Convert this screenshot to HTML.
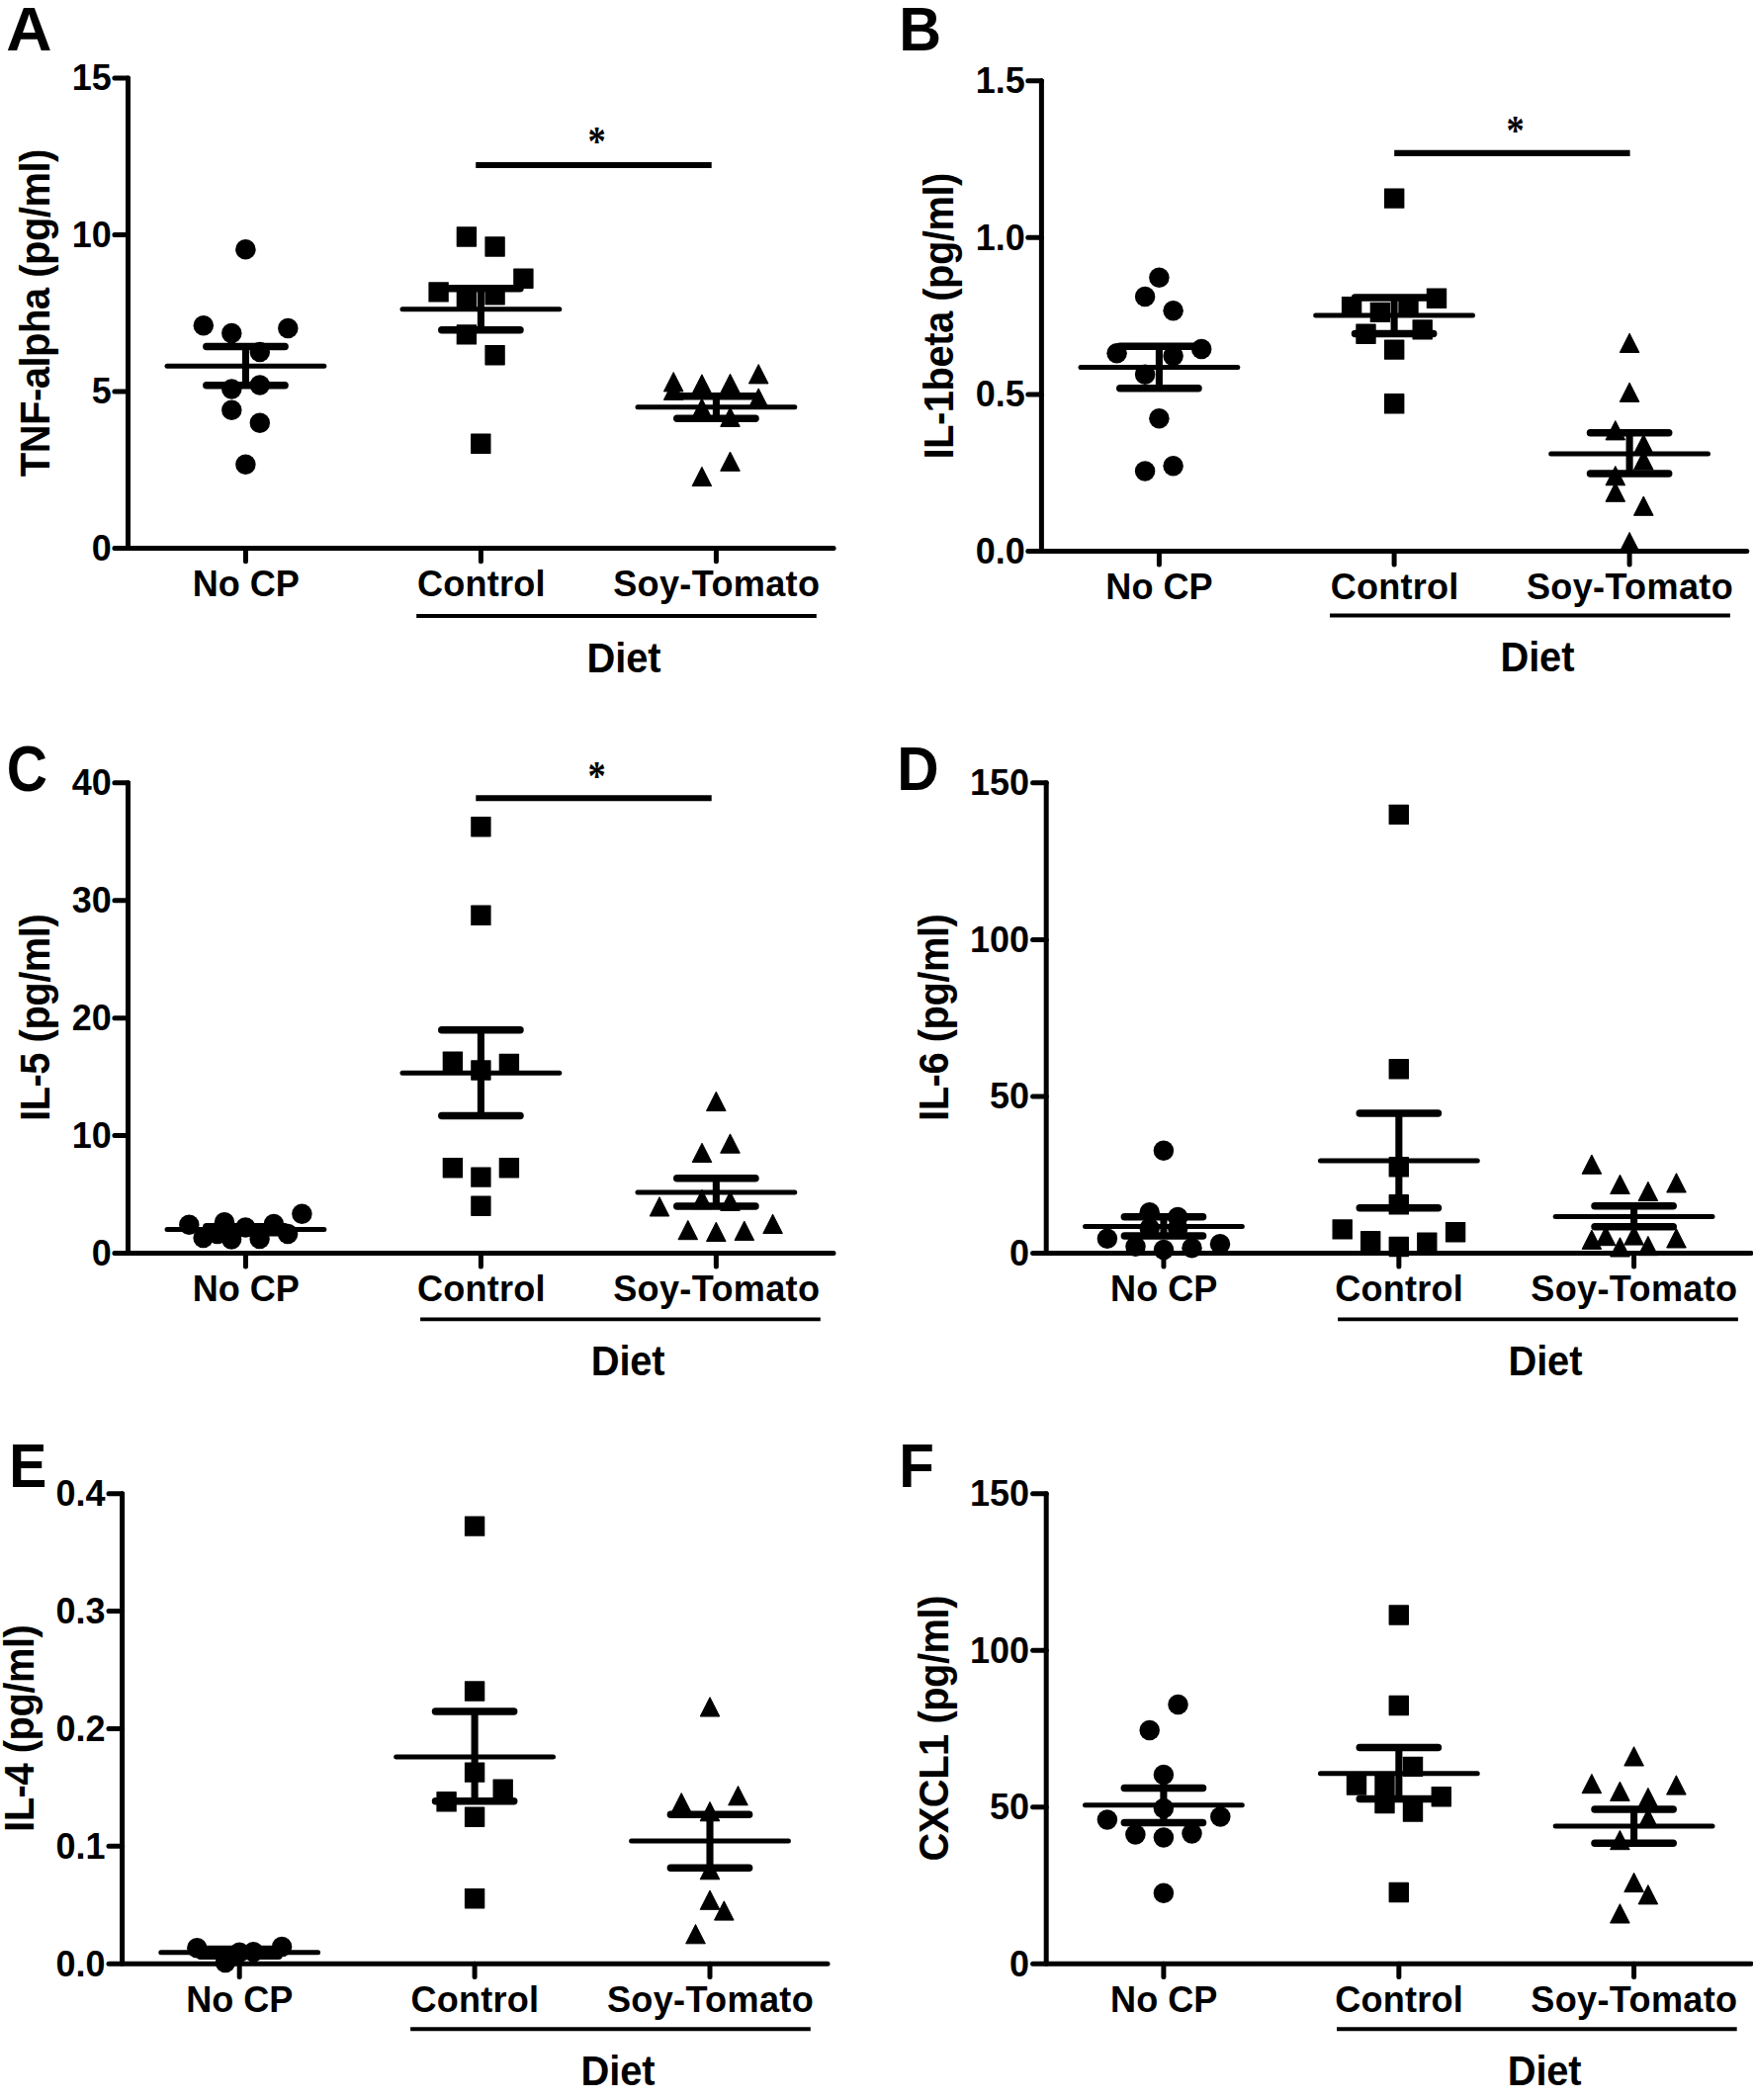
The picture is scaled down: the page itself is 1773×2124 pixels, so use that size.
<!DOCTYPE html>
<html lang="en"><head><meta charset="utf-8"><title>Figure</title>
<style>
html,body{margin:0;padding:0;background:#fff;}
body{width:1773px;height:2124px;overflow:hidden;}
svg{display:block;}
text{font-family:"Liberation Sans", Arial, Helvetica, sans-serif;font-weight:700;fill:#000;}
.letter{font-size:60px;}
.tick{font-size:36px;}
.xl{font-size:36.1px;}
.ls3{letter-spacing:0.33px;}
.ls2{letter-spacing:0.2px;}
.diet{font-size:39.9px;letter-spacing:-0.15px;}
.yl{font-size:39.9px;letter-spacing:-0.47px;}
.star{font-size:36.5px;font-family:"Liberation Serif","DejaVu Serif",serif;}
.tri{stroke:#000;stroke-width:1;stroke-linejoin:round;}
.axis{stroke:#000;stroke-width:5;fill:none;stroke-linecap:butt;}
.rc{stroke-linecap:round;}
.rcl{stroke-linecap:round;}
.uline{stroke:#000;stroke-width:3.9;fill:none;}
.sig{stroke:#000;stroke-width:6.1;fill:none;}
.mean{stroke:#000;stroke-width:5;stroke-linecap:round;fill:none;}
.sem{stroke:#000;stroke-width:7.5;stroke-linecap:round;fill:none;}
.semv{stroke:#000;stroke-width:7.1;fill:none;}
</style></head><body>
<svg width="1773" height="2124" viewBox="0 0 1773 2124">
<rect width="1773" height="2124" fill="#fff"/>
<g class="panel" id="panel-A">
<text class="letter" transform="translate(6.25 50.9) scale(1.069 1.039)">A</text>
<path class="axis rc" d="M129.5 79V554.4"/>
<path class="axis rc" d="M115.9 554.4H843.1"/>
<path class="axis rcl" d="M115.9 79H129.5"/>
<text class="tick" transform="translate(112.8 91.3) scale(1.000 1.043)" text-anchor="end">15</text>
<path class="axis rcl" d="M115.9 237.45H129.5"/>
<text class="tick" transform="translate(112.8 249.75) scale(1.000 1.043)" text-anchor="end">10</text>
<path class="axis rcl" d="M115.9 395.9H129.5"/>
<text class="tick" transform="translate(112.8 408.2) scale(1.000 1.043)" text-anchor="end">5</text>
<text class="tick" transform="translate(112.8 566.7) scale(1.000 1.043)" text-anchor="end">0</text>
<path class="axis rc" d="M248.45 554.4V567.8"/>
<path class="axis rc" d="M486.4 554.4V567.8"/>
<path class="axis rc" d="M724.4 554.4V567.8"/>
<text class="xl" transform="translate(248.8 603) scale(1.000 1.043)" text-anchor="middle">No CP</text>
<text class="xl ls2" transform="translate(486.85 603) scale(1.000 1.043)" text-anchor="middle">Control</text>
<text class="xl ls3" transform="translate(724.75 603) scale(1.000 1.043)" text-anchor="middle">Soy-Tomato</text>
<path class="uline" d="M421.2 622.95H825.8"/>
<text class="diet" transform="translate(631 679.65) scale(1.000 1.043)" text-anchor="middle">Diet</text>
<text class="yl" transform="translate(49.75 316.7) rotate(-90) scale(1.000 1.043)" text-anchor="middle">TNF-alpha (pg/ml)</text>
<path class="sig" d="M481.2 167H719.7"/>
<text class="star" transform="translate(603.5 156.94) scale(1.000 1.160)" text-anchor="middle">*</text>
<g class="grp">
<circle cx="248.4" cy="252.3" r="10.25"/>
<circle cx="205.8" cy="329.2" r="10.25"/>
<circle cx="234.3" cy="337.1" r="10.25"/>
<circle cx="291.3" cy="331.9" r="10.25"/>
<circle cx="262.8" cy="356.1" r="10.25"/>
<circle cx="234.3" cy="393.5" r="10.25"/>
<circle cx="262.8" cy="389.4" r="10.25"/>
<circle cx="234.3" cy="414.7" r="10.25"/>
<circle cx="262.8" cy="427.7" r="10.25"/>
<circle cx="248.4" cy="469.7" r="10.25"/>
<path class="mean" d="M169.05 370.3H327.85"/>
<path class="sem" d="M208.85 350.6H288.05"/>
<path class="sem" d="M208.85 389.8H288.05"/>
<path class="semv" d="M248.45 350.6V389.8"/>
</g>
<g class="grp">
<rect x="461.7" y="229.3" width="20.4" height="20.4" rx="0.6"/>
<rect x="490.4" y="239.3" width="20.4" height="20.4" rx="0.6"/>
<rect x="519.2" y="271.5" width="20.4" height="20.4" rx="0.6"/>
<rect x="433.4" y="285.2" width="20.4" height="20.4" rx="0.6"/>
<rect x="461.7" y="290.8" width="20.4" height="20.4" rx="0.6"/>
<rect x="490.4" y="288.2" width="20.4" height="20.4" rx="0.6"/>
<rect x="461.7" y="328.2" width="20.4" height="20.4" rx="0.6"/>
<rect x="490.4" y="349" width="20.4" height="20.4" rx="0.6"/>
<rect x="476.1" y="438.6" width="20.4" height="20.4" rx="0.6"/>
<path class="mean" d="M407 312.8H565.8"/>
<path class="sem" d="M446.8 291.7H526"/>
<path class="sem" d="M446.8 333.8H526"/>
<path class="semv" d="M486.4 291.7V333.8"/>
</g>
<g class="grp">
<path class="tri" d="M681.2 376.6L691 395.9L671.4 395.9Z"/>
<path class="tri" d="M709.9 378.8L719.7 398.1L700.1 398.1Z"/>
<path class="tri" d="M738.5 378.3L748.3 397.6L728.7 397.6Z"/>
<path class="tri" d="M767.2 368.6L777 387.9L757.4 387.9Z"/>
<path class="tri" d="M681.2 385.1L691 404.4L671.4 404.4Z"/>
<path class="tri" d="M767.2 392.9L777 412.2L757.4 412.2Z"/>
<path class="tri" d="M709.9 403.1L719.7 422.4L700.1 422.4Z"/>
<path class="tri" d="M738.5 412.1L748.3 431.4L728.7 431.4Z"/>
<path class="tri" d="M738.5 457L748.3 476.3L728.7 476.3Z"/>
<path class="tri" d="M709.9 472.3L719.7 491.6L700.1 491.6Z"/>
<path class="mean" d="M645 411.8H803.8"/>
<path class="sem" d="M684.8 400.8H764"/>
<path class="sem" d="M684.8 423.3H764"/>
<path class="semv" d="M724.4 400.8V423.3"/>
</g>
</g>
<g class="panel" id="panel-B">
<text class="letter" transform="translate(909.13 50.9) scale(0.988 1.039)">B</text>
<path class="axis rc" d="M1053.4 81.7V557.5"/>
<path class="axis rc" d="M1039.8 557.5H1766.8"/>
<path class="axis rcl" d="M1039.8 81.7H1053.4"/>
<text class="tick" transform="translate(1036.8 94) scale(1.000 1.043)" text-anchor="end">1.5</text>
<path class="axis rcl" d="M1039.8 240.3H1053.4"/>
<text class="tick" transform="translate(1036.8 252.6) scale(1.000 1.043)" text-anchor="end">1.0</text>
<path class="axis rcl" d="M1039.8 398.9H1053.4"/>
<text class="tick" transform="translate(1036.8 411.2) scale(1.000 1.043)" text-anchor="end">0.5</text>
<text class="tick" transform="translate(1036.8 569.8) scale(1.000 1.043)" text-anchor="end">0.0</text>
<path class="axis rc" d="M1172.4 557.5V570.9"/>
<path class="axis rc" d="M1410.1 557.5V570.9"/>
<path class="axis rc" d="M1648.1 557.5V570.9"/>
<text class="xl" transform="translate(1172.5 606) scale(1.000 1.043)" text-anchor="middle">No CP</text>
<text class="xl ls2" transform="translate(1410.55 606) scale(1.000 1.043)" text-anchor="middle">Control</text>
<text class="xl ls3" transform="translate(1648.45 606) scale(1.000 1.043)" text-anchor="middle">Soy-Tomato</text>
<path class="uline" d="M1345.05 622.5H1749.9"/>
<text class="diet" transform="translate(1554.9 678.8) scale(1.000 1.043)" text-anchor="middle">Diet</text>
<text class="yl" transform="translate(964 319.8) rotate(-90) scale(1.000 1.043)" text-anchor="middle">IL-1beta (pg/ml)</text>
<path class="sig" d="M1410.2 154.9H1648.6"/>
<text class="star" transform="translate(1532.5 146.14) scale(1.000 1.160)" text-anchor="middle">*</text>
<g class="grp">
<circle cx="1172.4" cy="280.7" r="10.25"/>
<circle cx="1158.1" cy="300.1" r="10.25"/>
<circle cx="1186.6" cy="314.3" r="10.25"/>
<circle cx="1215.2" cy="353" r="10.25"/>
<circle cx="1129.6" cy="357.3" r="10.25"/>
<circle cx="1186.6" cy="360.1" r="10.25"/>
<circle cx="1158.1" cy="378.7" r="10.25"/>
<circle cx="1172.4" cy="423.3" r="10.25"/>
<circle cx="1186.6" cy="471.2" r="10.25"/>
<circle cx="1158.1" cy="476.6" r="10.25"/>
<path class="mean" d="M1093 371.5H1251.8"/>
<path class="sem" d="M1132.8 350.2H1212"/>
<path class="sem" d="M1132.8 392.8H1212"/>
<path class="semv" d="M1172.4 350.2V392.8"/>
</g>
<g class="grp">
<rect x="1400" y="190.4" width="20.4" height="20.4" rx="0.6"/>
<rect x="1442.8" y="291.6" width="20.4" height="20.4" rx="0.6"/>
<rect x="1356.9" y="299.9" width="20.4" height="20.4" rx="0.6"/>
<rect x="1385.7" y="305.7" width="20.4" height="20.4" rx="0.6"/>
<rect x="1414.3" y="299.3" width="20.4" height="20.4" rx="0.6"/>
<rect x="1371.3" y="327.5" width="20.4" height="20.4" rx="0.6"/>
<rect x="1428.5" y="323.2" width="20.4" height="20.4" rx="0.6"/>
<rect x="1400" y="343.4" width="20.4" height="20.4" rx="0.6"/>
<rect x="1400" y="398.1" width="20.4" height="20.4" rx="0.6"/>
<path class="mean" d="M1330.7 319H1489.5"/>
<path class="sem" d="M1370.5 301H1449.7"/>
<path class="sem" d="M1370.5 337.5H1449.7"/>
<path class="semv" d="M1410.1 301V337.5"/>
</g>
<g class="grp">
<path class="tri" d="M1648.1 337.2L1657.9 356.5L1638.3 356.5Z"/>
<path class="tri" d="M1648.1 387.1L1657.9 406.4L1638.3 406.4Z"/>
<path class="tri" d="M1633.8 425.6L1643.6 444.9L1624 444.9Z"/>
<path class="tri" d="M1662.3 439.5L1672.1 458.8L1652.5 458.8Z"/>
<path class="tri" d="M1662.3 455.8L1672.1 475.1L1652.5 475.1Z"/>
<path class="tri" d="M1633.8 471.5L1643.6 490.8L1624 490.8Z"/>
<path class="tri" d="M1633.8 488L1643.6 507.3L1624 507.3Z"/>
<path class="tri" d="M1662.3 502L1672.1 521.3L1652.5 521.3Z"/>
<path class="tri" d="M1648.1 538.5L1657.9 557.8L1638.3 557.8Z"/>
<path class="mean" d="M1568.7 458.9H1727.5"/>
<path class="sem" d="M1608.5 437.8H1687.7"/>
<path class="sem" d="M1608.5 478.9H1687.7"/>
<path class="semv" d="M1648.1 437.8V478.9"/>
</g>
</g>
<g class="panel" id="panel-C">
<text class="letter" transform="translate(6.7 799.6) scale(0.951 1.066)">C</text>
<path class="axis rc" d="M129.5 791.8V1267.5"/>
<path class="axis rc" d="M115.9 1267.5H843"/>
<path class="axis rcl" d="M115.9 791.8H129.5"/>
<text class="tick" transform="translate(112.8 804.1) scale(1.000 1.043)" text-anchor="end">40</text>
<path class="axis rcl" d="M115.9 910.7H129.5"/>
<text class="tick" transform="translate(112.8 923) scale(1.000 1.043)" text-anchor="end">30</text>
<path class="axis rcl" d="M115.9 1029.65H129.5"/>
<text class="tick" transform="translate(112.8 1041.95) scale(1.000 1.043)" text-anchor="end">20</text>
<path class="axis rcl" d="M115.9 1148.6H129.5"/>
<text class="tick" transform="translate(112.8 1160.9) scale(1.000 1.043)" text-anchor="end">10</text>
<text class="tick" transform="translate(112.8 1279.8) scale(1.000 1.043)" text-anchor="end">0</text>
<path class="axis rc" d="M248.45 1267.5V1280.9"/>
<path class="axis rc" d="M486.4 1267.5V1280.9"/>
<path class="axis rc" d="M724.35 1267.5V1280.9"/>
<text class="xl" transform="translate(248.8 1316) scale(1.000 1.043)" text-anchor="middle">No CP</text>
<text class="xl ls2" transform="translate(486.85 1316) scale(1.000 1.043)" text-anchor="middle">Control</text>
<text class="xl ls3" transform="translate(724.75 1316) scale(1.000 1.043)" text-anchor="middle">Soy-Tomato</text>
<path class="uline" d="M425.1 1334.4H829.8"/>
<text class="diet" transform="translate(635.1 1390.6) scale(1.000 1.043)" text-anchor="middle">Diet</text>
<text class="yl" transform="translate(49.8 1029.4) rotate(-90) scale(1.000 1.043)" text-anchor="middle">IL-5 (pg/ml)</text>
<path class="sig" d="M481.3 807.3H719.7"/>
<text class="star" transform="translate(603.6 799.24) scale(1.000 1.160)" text-anchor="middle">*</text>
<g class="grp">
<circle cx="191.3" cy="1238.8" r="10.25"/>
<circle cx="205.6" cy="1251.9" r="10.25"/>
<circle cx="219.8" cy="1247.9" r="10.25"/>
<circle cx="227" cy="1236.3" r="10.25"/>
<circle cx="234.1" cy="1253.6" r="10.25"/>
<circle cx="248.3" cy="1241.6" r="10.25"/>
<circle cx="262.6" cy="1253.1" r="10.25"/>
<circle cx="276.9" cy="1237.9" r="10.25"/>
<circle cx="291.1" cy="1247.9" r="10.25"/>
<circle cx="305.4" cy="1227.7" r="10.25"/>
<path class="mean" d="M169.05 1243.6H327.85"/>
<path class="sem" d="M208.85 1240.8H288.05"/>
<path class="sem" d="M208.85 1246.8H288.05"/>
<path class="semv" d="M248.45 1240.8V1246.8"/>
</g>
<g class="grp">
<rect x="476.2" y="826" width="20.4" height="20.4" rx="0.6"/>
<rect x="476.2" y="915.6" width="20.4" height="20.4" rx="0.6"/>
<rect x="447.7" y="1063.6" width="20.4" height="20.4" rx="0.6"/>
<rect x="476.2" y="1072.3" width="20.4" height="20.4" rx="0.6"/>
<rect x="504.7" y="1065.8" width="20.4" height="20.4" rx="0.6"/>
<rect x="447.7" y="1171" width="20.4" height="20.4" rx="0.6"/>
<rect x="476.2" y="1180.4" width="20.4" height="20.4" rx="0.6"/>
<rect x="504.7" y="1171" width="20.4" height="20.4" rx="0.6"/>
<rect x="476.2" y="1209.5" width="20.4" height="20.4" rx="0.6"/>
<path class="mean" d="M407 1085.3H565.8"/>
<path class="sem" d="M446.8 1041.8H526"/>
<path class="sem" d="M446.8 1128.5H526"/>
<path class="semv" d="M486.4 1041.8V1128.5"/>
</g>
<g class="grp">
<path class="tri" d="M724.3 1104.3L734.1 1123.6L714.5 1123.6Z"/>
<path class="tri" d="M738.5 1146.9L748.3 1166.2L728.7 1166.2Z"/>
<path class="tri" d="M710 1156.2L719.8 1175.5L700.2 1175.5Z"/>
<path class="tri" d="M667 1210.7L676.8 1230L657.2 1230Z"/>
<path class="tri" d="M710 1203.4L719.8 1222.7L700.2 1222.7Z"/>
<path class="tri" d="M738.5 1205.1L748.3 1224.4L728.7 1224.4Z"/>
<path class="tri" d="M781.6 1228.2L791.4 1247.5L771.8 1247.5Z"/>
<path class="tri" d="M695.8 1234.4L705.6 1253.7L686 1253.7Z"/>
<path class="tri" d="M724.3 1236.2L734.1 1255.5L714.5 1255.5Z"/>
<path class="tri" d="M752.8 1235.1L762.6 1254.4L743 1254.4Z"/>
<path class="mean" d="M644.95 1206H803.75"/>
<path class="sem" d="M684.75 1191.7H763.95"/>
<path class="sem" d="M684.75 1220H763.95"/>
<path class="semv" d="M724.35 1191.7V1220"/>
</g>
</g>
<g class="panel" id="panel-D">
<text class="letter" transform="translate(907.15 798.9) scale(0.978 1.039)">D</text>
<path class="axis rc" d="M1058.2 791.8V1267.5"/>
<path class="axis rc" d="M1044.6 1267.5H1771.1"/>
<path class="axis rcl" d="M1044.6 791.8H1058.2"/>
<text class="tick" transform="translate(1041 804.1) scale(1.000 1.043)" text-anchor="end">150</text>
<path class="axis rcl" d="M1044.6 950.4H1058.2"/>
<text class="tick" transform="translate(1041 962.7) scale(1.000 1.043)" text-anchor="end">100</text>
<path class="axis rcl" d="M1044.6 1108.9H1058.2"/>
<text class="tick" transform="translate(1041 1121.2) scale(1.000 1.043)" text-anchor="end">50</text>
<text class="tick" transform="translate(1041 1279.8) scale(1.000 1.043)" text-anchor="end">0</text>
<path class="axis rc" d="M1176.95 1267.5V1280.9"/>
<path class="axis rc" d="M1414.85 1267.5V1280.9"/>
<path class="axis rc" d="M1652.6 1267.5V1280.9"/>
<text class="xl" transform="translate(1177.2 1316) scale(1.000 1.043)" text-anchor="middle">No CP</text>
<text class="xl ls2" transform="translate(1415.15 1316) scale(1.000 1.043)" text-anchor="middle">Control</text>
<text class="xl ls3" transform="translate(1652.85 1316) scale(1.000 1.043)" text-anchor="middle">Soy-Tomato</text>
<path class="uline" d="M1353.1 1334.4H1757.9"/>
<text class="diet" transform="translate(1562.9 1390.6) scale(1.000 1.043)" text-anchor="middle">Diet</text>
<text class="yl" transform="translate(959.2 1029.3) rotate(-90) scale(1.000 1.043)" text-anchor="middle">IL-6 (pg/ml)</text>
<g class="grp">
<circle cx="1176.9" cy="1163.8" r="10.25"/>
<circle cx="1162.7" cy="1226.2" r="10.25"/>
<circle cx="1191.2" cy="1231" r="10.25"/>
<circle cx="1162.7" cy="1242.2" r="10.25"/>
<circle cx="1191.2" cy="1242.2" r="10.25"/>
<circle cx="1119.9" cy="1252.7" r="10.25"/>
<circle cx="1148.5" cy="1260.7" r="10.25"/>
<circle cx="1177" cy="1263.9" r="10.25"/>
<circle cx="1205.5" cy="1262.2" r="10.25"/>
<circle cx="1234" cy="1258.2" r="10.25"/>
<path class="mean" d="M1097.55 1240.5H1256.35"/>
<path class="sem" d="M1137.35 1230.8H1216.55"/>
<path class="sem" d="M1137.35 1249.9H1216.55"/>
<path class="semv" d="M1176.95 1230.8V1249.9"/>
</g>
<g class="grp">
<rect x="1404.6" y="813.7" width="20.4" height="20.4" rx="0.6"/>
<rect x="1404.6" y="1071.1" width="20.4" height="20.4" rx="0.6"/>
<rect x="1404.6" y="1170.1" width="20.4" height="20.4" rx="0.6"/>
<rect x="1404.6" y="1208.1" width="20.4" height="20.4" rx="0.6"/>
<rect x="1347.5" y="1233.2" width="20.4" height="20.4" rx="0.6"/>
<rect x="1461.9" y="1236" width="20.4" height="20.4" rx="0.6"/>
<rect x="1376" y="1245.1" width="20.4" height="20.4" rx="0.6"/>
<rect x="1433.1" y="1246.6" width="20.4" height="20.4" rx="0.6"/>
<rect x="1404.6" y="1250.8" width="20.4" height="20.4" rx="0.6"/>
<path class="mean" d="M1335.45 1174.1H1494.25"/>
<path class="sem" d="M1375.25 1126.1H1454.45"/>
<path class="sem" d="M1375.25 1221.7H1454.45"/>
<path class="semv" d="M1414.85 1126.1V1221.7"/>
</g>
<g class="grp">
<path class="tri" d="M1609.9 1168L1619.7 1187.3L1600.1 1187.3Z"/>
<path class="tri" d="M1638.5 1188.2L1648.3 1207.5L1628.7 1207.5Z"/>
<path class="tri" d="M1666.9 1195.3L1676.7 1214.6L1657.1 1214.6Z"/>
<path class="tri" d="M1695.5 1186.7L1705.3 1206L1685.7 1206Z"/>
<path class="tri" d="M1609.9 1244.1L1619.7 1263.4L1600.1 1263.4Z"/>
<path class="tri" d="M1624.1 1240.4L1633.9 1259.7L1614.3 1259.7Z"/>
<path class="tri" d="M1638.5 1251.7L1648.3 1271L1628.7 1271Z"/>
<path class="tri" d="M1652.6 1239.8L1662.4 1259.1L1642.8 1259.1Z"/>
<path class="tri" d="M1666.9 1250.4L1676.7 1269.7L1657.1 1269.7Z"/>
<path class="tri" d="M1695.5 1242.7L1705.3 1262L1685.7 1262Z"/>
<path class="mean" d="M1573.2 1230.4H1732"/>
<path class="sem" d="M1613 1219.8H1692.2"/>
<path class="sem" d="M1613 1240.7H1692.2"/>
<path class="semv" d="M1652.6 1219.8V1240.7"/>
</g>
</g>
<g class="panel" id="panel-E">
<text class="letter" transform="translate(9.18 1503.9) scale(0.951 1.039)">E</text>
<path class="axis rc" d="M123.6 1510.7V1986.2"/>
<path class="axis rc" d="M110 1986.2H837"/>
<path class="axis rcl" d="M110 1510.7H123.6"/>
<text class="tick" transform="translate(106.6 1523) scale(1.000 1.043)" text-anchor="end">0.4</text>
<path class="axis rcl" d="M110 1629.6H123.6"/>
<text class="tick" transform="translate(106.6 1641.9) scale(1.000 1.043)" text-anchor="end">0.3</text>
<path class="axis rcl" d="M110 1748.45H123.6"/>
<text class="tick" transform="translate(106.6 1760.75) scale(1.000 1.043)" text-anchor="end">0.2</text>
<path class="axis rcl" d="M110 1867.3H123.6"/>
<text class="tick" transform="translate(106.6 1879.6) scale(1.000 1.043)" text-anchor="end">0.1</text>
<text class="tick" transform="translate(106.6 1998.5) scale(1.000 1.043)" text-anchor="end">0.0</text>
<path class="axis rc" d="M242.2 1986.2V1999.6"/>
<path class="axis rc" d="M480.1 1986.2V1999.6"/>
<path class="axis rc" d="M718 1986.2V1999.6"/>
<text class="xl" transform="translate(242.3 2034.8) scale(1.000 1.043)" text-anchor="middle">No CP</text>
<text class="xl ls2" transform="translate(480.45 2034.8) scale(1.000 1.043)" text-anchor="middle">Control</text>
<text class="xl ls3" transform="translate(718.45 2034.8) scale(1.000 1.043)" text-anchor="middle">Soy-Tomato</text>
<path class="uline" d="M415.1 2052.2H819.8"/>
<text class="diet" transform="translate(625 2108.7) scale(1.000 1.043)" text-anchor="middle">Diet</text>
<text class="yl" transform="translate(33.9 1748.3) rotate(-90) scale(1.000 1.043)" text-anchor="middle">IL-4 (pg/ml)</text>
<g class="grp">
<circle cx="242.2" cy="1974.8" r="10.25"/>
<circle cx="199.3" cy="1970.2" r="10.25"/>
<circle cx="227.9" cy="1985.1" r="10.25"/>
<circle cx="256.4" cy="1974.2" r="10.25"/>
<circle cx="285.1" cy="1969.1" r="10.25"/>
<path class="mean" d="M162.8 1974.8H321.6"/>
<path class="sem" d="M202.6 1971.4H281.8"/>
<path class="sem" d="M202.6 1978.2H281.8"/>
<path class="semv" d="M242.2 1971.4V1978.2"/>
</g>
<g class="grp">
<rect x="469.9" y="1533.4" width="20.4" height="20.4" rx="0.6"/>
<rect x="469.9" y="1700.3" width="20.4" height="20.4" rx="0.6"/>
<rect x="469.9" y="1782.4" width="20.4" height="20.4" rx="0.6"/>
<rect x="498.5" y="1799.5" width="20.4" height="20.4" rx="0.6"/>
<rect x="441.4" y="1812.1" width="20.4" height="20.4" rx="0.6"/>
<rect x="469.9" y="1827.5" width="20.4" height="20.4" rx="0.6"/>
<rect x="469.9" y="1910" width="20.4" height="20.4" rx="0.6"/>
<path class="mean" d="M400.7 1776.9H559.5"/>
<path class="sem" d="M440.5 1731H519.7"/>
<path class="sem" d="M440.5 1821.8H519.7"/>
<path class="semv" d="M480.1 1731V1821.8"/>
</g>
<g class="grp">
<path class="tri" d="M718 1716.7L727.8 1736L708.2 1736Z"/>
<path class="tri" d="M746.5 1806.5L756.3 1825.8L736.7 1825.8Z"/>
<path class="tri" d="M689.2 1813.6L699 1832.9L679.4 1832.9Z"/>
<path class="tri" d="M718 1822.5L727.8 1841.8L708.2 1841.8Z"/>
<path class="tri" d="M718 1881.5L727.8 1900.8L708.2 1900.8Z"/>
<path class="tri" d="M718 1912L727.8 1931.3L708.2 1931.3Z"/>
<path class="tri" d="M732.3 1922.8L742.1 1942.1L722.5 1942.1Z"/>
<path class="tri" d="M703.5 1946.5L713.3 1965.8L693.7 1965.8Z"/>
<path class="mean" d="M638.6 1862.1H797.4"/>
<path class="sem" d="M678.4 1835.3H757.6"/>
<path class="sem" d="M678.4 1889.2H757.6"/>
<path class="semv" d="M718 1835.3V1889.2"/>
</g>
</g>
<g class="panel" id="panel-F">
<text class="letter" transform="translate(909.2 1503.9) scale(0.972 1.039)">F</text>
<path class="axis rc" d="M1058.2 1510.7V1986.2"/>
<path class="axis rc" d="M1044.6 1986.2H1771.1"/>
<path class="axis rcl" d="M1044.6 1510.7H1058.2"/>
<text class="tick" transform="translate(1041 1523) scale(1.000 1.043)" text-anchor="end">150</text>
<path class="axis rcl" d="M1044.6 1669.2H1058.2"/>
<text class="tick" transform="translate(1041 1681.5) scale(1.000 1.043)" text-anchor="end">100</text>
<path class="axis rcl" d="M1044.6 1827.7H1058.2"/>
<text class="tick" transform="translate(1041 1840) scale(1.000 1.043)" text-anchor="end">50</text>
<text class="tick" transform="translate(1041 1998.5) scale(1.000 1.043)" text-anchor="end">0</text>
<path class="axis rc" d="M1176.9 1986.2V1999.6"/>
<path class="axis rc" d="M1414.85 1986.2V1999.6"/>
<path class="axis rc" d="M1652.6 1986.2V1999.6"/>
<text class="xl" transform="translate(1177.2 2034.8) scale(1.000 1.043)" text-anchor="middle">No CP</text>
<text class="xl ls2" transform="translate(1415.15 2034.8) scale(1.000 1.043)" text-anchor="middle">Control</text>
<text class="xl ls3" transform="translate(1652.85 2034.8) scale(1.000 1.043)" text-anchor="middle">Soy-Tomato</text>
<path class="uline" d="M1352 2052.2H1756.7"/>
<text class="diet" transform="translate(1562.1 2108.7) scale(1.000 1.043)" text-anchor="middle">Diet</text>
<text class="yl" transform="translate(959.2 1748.3) rotate(-90) scale(1.000 1.043)" text-anchor="middle">CXCL1 (pg/ml)</text>
<g class="grp">
<circle cx="1191.5" cy="1724.1" r="10.25"/>
<circle cx="1162.7" cy="1750.1" r="10.25"/>
<circle cx="1176.9" cy="1794.9" r="10.25"/>
<circle cx="1176.9" cy="1829" r="10.25"/>
<circle cx="1119.9" cy="1840.4" r="10.25"/>
<circle cx="1234.3" cy="1837.5" r="10.25"/>
<circle cx="1148.4" cy="1855.5" r="10.25"/>
<circle cx="1176.9" cy="1858.4" r="10.25"/>
<circle cx="1205.5" cy="1854.6" r="10.25"/>
<circle cx="1176.9" cy="1914.8" r="10.25"/>
<path class="mean" d="M1097.5 1825.7H1256.3"/>
<path class="sem" d="M1137.3 1808.6H1216.5"/>
<path class="sem" d="M1137.3 1843.5H1216.5"/>
<path class="semv" d="M1176.9 1808.6V1843.5"/>
</g>
<g class="grp">
<rect x="1404.6" y="1623.3" width="20.4" height="20.4" rx="0.6"/>
<rect x="1404.6" y="1714.8" width="20.4" height="20.4" rx="0.6"/>
<rect x="1418.8" y="1776.7" width="20.4" height="20.4" rx="0.6"/>
<rect x="1361.8" y="1795.3" width="20.4" height="20.4" rx="0.6"/>
<rect x="1390.3" y="1793.8" width="20.4" height="20.4" rx="0.6"/>
<rect x="1447.6" y="1807" width="20.4" height="20.4" rx="0.6"/>
<rect x="1390.3" y="1813.8" width="20.4" height="20.4" rx="0.6"/>
<rect x="1418.8" y="1822.4" width="20.4" height="20.4" rx="0.6"/>
<rect x="1404.6" y="1903.8" width="20.4" height="20.4" rx="0.6"/>
<path class="mean" d="M1335.45 1793.8H1494.25"/>
<path class="sem" d="M1375.25 1767.5H1454.45"/>
<path class="sem" d="M1375.25 1819.4H1454.45"/>
<path class="semv" d="M1414.85 1767.5V1819.4"/>
</g>
<g class="grp">
<path class="tri" d="M1652.6 1766.7L1662.4 1786L1642.8 1786Z"/>
<path class="tri" d="M1609.9 1794.4L1619.7 1813.7L1600.1 1813.7Z"/>
<path class="tri" d="M1638.4 1802.1L1648.2 1821.4L1628.6 1821.4Z"/>
<path class="tri" d="M1695.4 1795.8L1705.2 1815.1L1685.6 1815.1Z"/>
<path class="tri" d="M1666.9 1808.4L1676.7 1827.7L1657.1 1827.7Z"/>
<path class="tri" d="M1666.9 1829.3L1676.7 1848.6L1657.1 1848.6Z"/>
<path class="tri" d="M1638.4 1851.4L1648.2 1870.7L1628.6 1870.7Z"/>
<path class="tri" d="M1652.6 1894.3L1662.4 1913.6L1642.8 1913.6Z"/>
<path class="tri" d="M1666.9 1906.6L1676.7 1925.9L1657.1 1925.9Z"/>
<path class="tri" d="M1638.4 1925.7L1648.2 1945L1628.6 1945Z"/>
<path class="mean" d="M1573.2 1847.1H1732"/>
<path class="sem" d="M1613 1830H1692.2"/>
<path class="sem" d="M1613 1864.2H1692.2"/>
<path class="semv" d="M1652.6 1830V1864.2"/>
</g>
</g>
</svg></body></html>
